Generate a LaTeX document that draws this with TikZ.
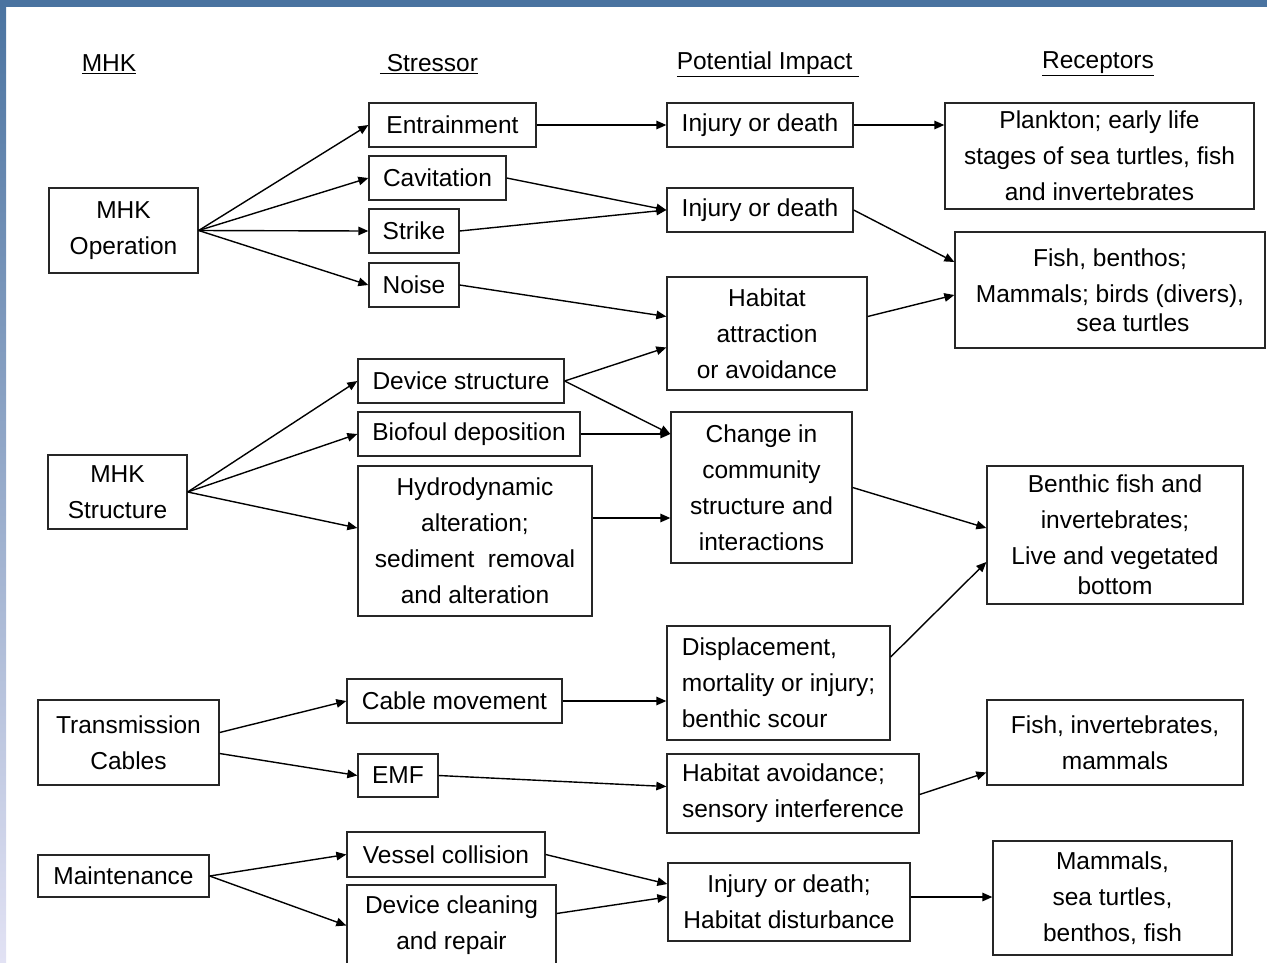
\documentclass[tikz,border=0pt]{standalone}
\usepackage{fontspec}
\setmainfont{Liberation Sans}
\usetikzlibrary{arrows.meta}
\definecolor{barblue}{HTML}{4A73A0}
\definecolor{stripmid}{HTML}{8DBCF5}
\definecolor{stripbot}{HTML}{E2E2F4}

\begin{document}
\begin{tikzpicture}[
  x=1pt,y=-1pt,
  >={Triangle[length=10pt,width=8.5pt]},
  box/.style={draw=black!85,line width=1.3pt,inner sep=0pt,align=center,
    font=\fontsize{24.5}{36}\selectfont},
  head/.style={inner sep=0pt,font=\fontsize{24.5}{36}\selectfont},
  link/.style={->,line width=1.4pt}
]
\useasboundingbox (0,0) rectangle (1267,962);
\clip (0,0) rectangle (1267,962);
\shade[top color=barblue,middle color=stripmid,bottom color=stripbot] (0,0) rectangle (6,962);
\fill[barblue] (0,0) rectangle (1267,7);

% column heads
\node[head] (hmhk) at (109,64) {\underline{MHK}};
\node[head] (hstr) at (429,64) {\underline{\ Stressor}};
\node[head] (himp) at (768,64) {\underline{Potential Impact\ }};
\node[head] (hrec) at (1098,64) {\underline{Receptors}};

% sources
\node[box,minimum width=149pt,minimum height=85pt] (op) at (123.5,230.5) {MHK\\Operation};
\node[box,minimum width=139pt,minimum height=74pt] (st) at (117.5,492) {MHK\\Structure};
\node[box,minimum width=181pt,minimum height=85pt] (trn) at (128.5,742.5) {Transmission\\Cables};
\node[box,minimum width=171pt,minimum height=42pt] (mnt) at (123.5,876) {Maintenance};

% stressors
\node[box,minimum width=167pt,minimum height=44pt] (ent) at (452.5,125) {Entrainment};
\node[box,minimum width=137pt,minimum height=44pt] (cav) at (437.5,178) {Cavitation};
\node[box,minimum width=90pt,minimum height=44pt] (stk) at (414,231) {Strike};
\node[box,minimum width=90pt,minimum height=44pt] (noi) at (414,285) {Noise};
\node[box,minimum width=206pt,minimum height=44pt] (dev) at (461,381) {Device structure};
\node[box,minimum width=222pt,minimum height=44pt] (bio) at (469,434) {Biofoul deposition};
\node[box,minimum width=234pt,minimum height=150pt] (hyd) at (475,541)
  {Hydrodynamic\\alteration;\\sediment\ \ removal\\and alteration};
\node[box,minimum width=215pt,minimum height=44pt] (cbl) at (454.5,701) {Cable movement};
\node[box,minimum width=80pt,minimum height=43pt] (emf) at (398,775.5) {EMF};
\node[box,minimum width=198pt,minimum height=45pt] (ves) at (446,854.5) {Vessel collision};
\node[box,minimum width=209pt,minimum height=81pt] (cln) at (451.5,925.5) {Device cleaning\\and repair};

% impacts
\node[box,minimum width=186pt,minimum height=44pt] (inja) at (760,125) {Injury or death};
\node[box,minimum width=186pt,minimum height=44pt] (injb) at (760,210) {Injury or death};
\node[box,minimum width=200pt,minimum height=113pt] (hab) at (767,333.5) {Habitat\\attraction\\or avoidance};
\node[box,minimum width=181pt,minimum height=151pt] (chg) at (761.5,487.5)
  {Change in\\community\\structure and\\interactions};
\node[box,align=left,minimum width=223pt,minimum height=114pt] (dsp) at (778.5,683)
  {Displacement,\\mortality or injury;\\benthic scour};
\node[box,align=left,minimum width=252pt,minimum height=79pt] (hav) at (793,793.5)
  {Habitat avoidance;\\sensory interference};
\node[box,minimum width=242pt,minimum height=78pt] (injc) at (789,902) {Injury or death;\\Habitat disturbance};

% receptors
\node[box,minimum width=309pt,minimum height=106pt] (plk) at (1099.5,156)
  {Plankton; early life\\stages of sea turtles, fish\\and invertebrates};
\node[box,minimum width=310pt,minimum height=116pt] (fsh) at (1110,290)
  {Fish, benthos;\\Mammals; birds (divers),\\[-7pt]\hspace*{46pt}sea turtles};
\node[box,minimum width=256pt,minimum height=138pt] (bfi) at (1115,535)
  {Benthic fish and\\invertebrates;\\Live and vegetated\\[-6pt]bottom};
\node[box,minimum width=256pt,minimum height=85pt] (fiv) at (1115,742.5) {Fish, invertebrates,\\mammals};
\node[box,minimum width=239pt,minimum height=114pt] (mam) at (1112.5,898) {Mammals,\\sea turtles,\\benthos, fish};

% MHK operation
\draw[link] (op.east) -- (ent.west);
\draw[link] (op.east) -- (cav.west);
\draw[link] (op.east) -- (stk.west);
\draw[link] (op.east) -- (noi.west);
\draw[link] (ent.east) -- (inja.west);
\draw[link] (inja.east) -- (inja.east -| plk.west);
\draw[link] (cav.east) -- (injb.west);
\draw[link] (stk.east) -- (injb.west);
\draw[link] (noi.east) -- ([yshift=17pt]hab.west);
\draw[link] (injb.east) -- ([yshift=28pt]fsh.west);
\draw[link] ([yshift=17pt]hab.east) -- ([yshift=-5pt]fsh.west);

% MHK structure
\draw[link] (st.east) -- (dev.west);
\draw[link] (st.east) -- (bio.west);
\draw[link] (st.east) -- ([yshift=13pt]hyd.west);
\draw[link] (dev.east) -- ([yshift=-14pt]hab.west);
\draw[link] (dev.east) -- (chg.west |- bio.east);
\draw[link] (bio.east) -- (chg.west |- bio.east);
\draw[link] ([yshift=23pt]hyd.east) -- ([yshift=23pt]hyd.east -| chg.west);
\draw[link] (chg.east) -- ([yshift=7pt]bfi.west);

% cables
\draw[link] ([yshift=10pt]trn.east) -- (cbl.west);
\draw[link] ([yshift=-11pt]trn.east) -- (emf.west);
\draw[link] (cbl.east) -- (cbl.east -| dsp.west);
\draw[link] ([yshift=26pt]dsp.east) -- ([yshift=-27pt]bfi.west);
\draw[link] (emf.east) -- ([yshift=7pt]hav.west);
\draw[link] ([yshift=-1pt]hav.east) -- ([yshift=-30pt]fiv.west);

% maintenance
\draw[link] (mnt.east) -- (ves.west);
\draw[link] (mnt.east) -- (cln.west);
\draw[link] (ves.east) -- ([yshift=18pt]injc.west);
\draw[link] ([yshift=12pt]cln.east) -- ([yshift=5pt]injc.west);
\draw[link] ([yshift=5pt]injc.east) -- ([yshift=5pt]injc.east -| mam.west);
\end{tikzpicture}
\end{document}
